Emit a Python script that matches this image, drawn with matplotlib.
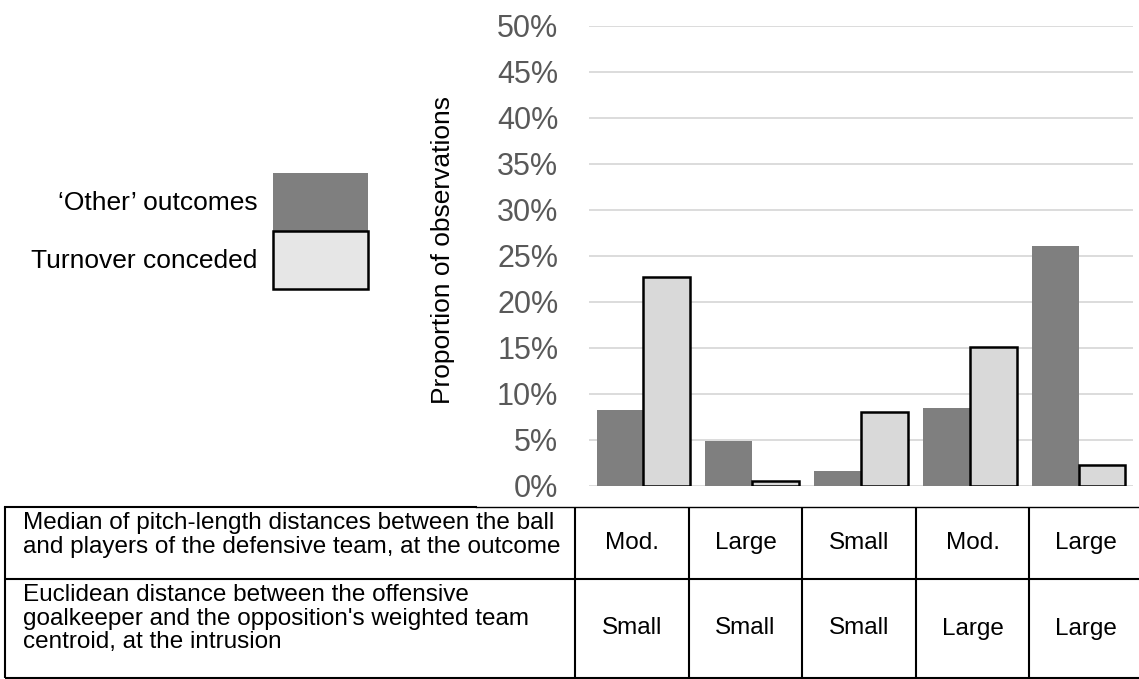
import numpy as np
import matplotlib
matplotlib.use("Agg")
import matplotlib.pyplot as plt
from matplotlib.patches import Patch

plt.rcParams['font.family'] = ['Liberation Sans', 'DejaVu Sans']

# bar heights, % of observations
other_outcomes = [8.2, 4.9, 1.6, 8.4, 26.0]
turnover_conceded = [22.7, 0.5, 8.0, 15.1, 2.2]
series_labels = ["\u2018Other\u2019 outcomes", "Turnover conceded"]

# table under the bars
row_labels = [
    "Median of pitch-length distances between the ball\n"
    "and players of the defensive team, at the outcome",
    "Euclidean distance between the offensive\n"
    "goalkeeper and the opposition's weighted team\n"
    "centroid, at the intrusion",
]
ball_distance = ["Mod.", "Large", "Small", "Mod.", "Large"]
keeper_distance = ["Small", "Small", "Small", "Large", "Large"]

yticks = np.arange(0, 51, 5)

DARK = "#7f7f7f"
LIGHT = "#d9d9d9"
W, H = 1139, 679

fig = plt.figure(figsize=(W / 100, H / 100), dpi=100)

# main bar chart
ax = fig.add_axes([589 / W, 1 - 485.7 / H, 544 / W, 460 / H])
x = np.arange(len(other_outcomes))
bw = 0.43
ax.bar(x - bw, other_outcomes, bw, align='edge', color=DARK)
ax.bar(x, turnover_conceded, bw, align='edge', color=LIGHT,
       edgecolor='black', linewidth=1.8)
ax.set_xlim(-0.5, len(x) - 0.5)
ax.set_ylim(0, 50)
ax.set_yticks(yticks)
ax.set_yticklabels([f"{t}%" for t in yticks])
ax.set_xticks([])
ax.tick_params(axis='y', length=0, pad=22, labelsize=22, labelcolor='#595959')
ax.grid(axis='y', color='#d9d9d9', linewidth=1.3)
ax.set_axisbelow(True)
for s in ax.spines.values():
    s.set_visible(False)
ax.set_ylabel("Proportion of observations", fontsize=19)
ax.yaxis.set_label_coords(-0.246, 0.512)

# legend on the left, labels before the boxes
handles = [Patch(facecolor=DARK),
           Patch(facecolor='#e6e6e6', edgecolor='black', linewidth=1.8)]
fig.legend(handles, series_labels, loc='upper right',
           bbox_to_anchor=(368 / W, 1 - 173 / H), markerfirst=False,
           frameon=False, fontsize=19, handlelength=95 / 26.4,
           handleheight=3.0, handletextpad=0.6, labelspacing=0,
           borderpad=0, borderaxespad=0)

# table drawn in pixel coordinates
tab = fig.add_axes([0, 0, 1, 1], zorder=-1)
tab.set_xlim(0, W)
tab.set_ylim(H, 0)
tab.axis('off')

col_edges = [5, 575, 689, 802, 916, 1029, 1143]
row_edges = [507, 579, 678]

tab.plot([5, 476], [row_edges[0]] * 2, color='black', lw=1.5)
tab.plot([476, W], [row_edges[0]] * 2, color='black', lw=1.0)
tab.hlines(row_edges[1:], 5, W, color='black', lw=1.5)
tab.vlines(col_edges[:-1], row_edges[0], row_edges[-1], color='black', lw=1.5)

for r, vals in enumerate([ball_distance, keeper_distance]):
    top, bot = row_edges[r], row_edges[r + 1]
    tab.text(23, top + 5, row_labels[r], ha='left', va='top',
             fontsize=17.5, linespacing=1.1)
    for c, v in enumerate(vals):
        xc = (col_edges[c + 1] + col_edges[c + 2]) / 2
        tab.text(xc, (top + bot) / 2, v, ha='center', va='center',
                 fontsize=17.5)

fig.savefig("out.png", dpi=100)
